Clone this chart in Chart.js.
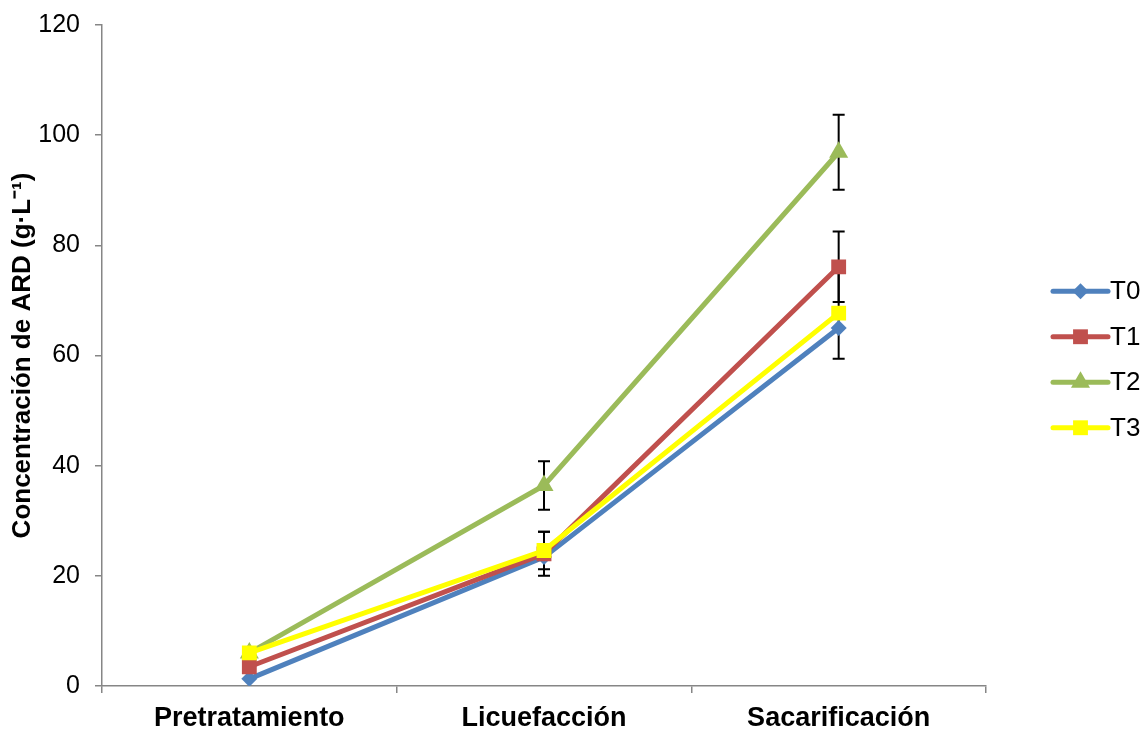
<!DOCTYPE html>
<html>
<head>
<meta charset="utf-8">
<script src="https://cdn.jsdelivr.net/npm/chart.js@4/dist/chart.umd.min.js"></script>
<style>
  html, body { margin: 0; padding: 0; background: #fff; }
  #wrap { width: 1144px; height: 729px; }
</style>
</head>
<body>
<div id="wrap"><canvas id="chart" width="1144" height="729"></canvas></div>
<script>
        // Data
        const categories = ['Pretratamiento', 'Licuefacción', 'Sacarificación'];
        const seriesNames = ['T0', 'T1', 'T2', 'T3'];
        const t0Values = [1.3, 23.4, 65.0];
        const t1Values = [3.5, 24.0, 76.1];
        const t2Values = [6.0, 36.4, 96.9];
        const t3Values = [6.0, 24.6, 67.7];
        const t0Errors = [0, 0, 0];
        const t1Errors = [0, 4.0, 6.4];
        const t2Errors = [0, 4.4, 6.8];
        const t3Errors = [0, 3.4, 8.3];
        const yTicks = [0, 20, 40, 60, 80, 100, 120];

        const FONT = "'Liberation Sans', Arial, sans-serif";

        const styles = [
            { color: '#4F81BD', point: 'rectRot', radius: 8 },
            { color: '#C0504D', point: 'rect', radius: 10.5 },
            { color: '#9BBB59', point: 'triangle', radius: 11 },
            { color: '#FFFF00', point: 'rect', radius: 10.5 }
        ];
        const values = [t0Values, t1Values, t2Values, t3Values];
        const errors = [t0Errors, t1Errors, t2Errors, t3Errors];

        const datasets = seriesNames.map((name, i) => ({
            label: name,
            data: values[i],
            errors: errors[i],
            borderColor: styles[i].color,
            backgroundColor: styles[i].color,
            pointBackgroundColor: styles[i].color,
            pointBorderColor: styles[i].color,
            pointBorderWidth: 0,
            pointStyle: styles[i].point,
            pointRadius: styles[i].radius,
            borderWidth: 5,
            tension: 0,
            order: seriesNames.length - 1 - i
        }));

        // Error bars, drawn behind the series
        const errorBarPlugin = {
            id: 'errorBars',
            beforeDatasetsDraw(chart) {
                const ctx = chart.ctx;
                const yScale = chart.scales.y;
                ctx.save();
                ctx.strokeStyle = '#000';
                ctx.lineWidth = 2;
                chart.data.datasets.forEach((ds, i) => {
                    const meta = chart.getDatasetMeta(i);
                    ds.errors.forEach((e, j) => {
                        if (!e) return;
                        const x = meta.data[j].x;
                        const top = yScale.getPixelForValue(ds.data[j] + e);
                        const bot = yScale.getPixelForValue(ds.data[j] - e);
                        ctx.beginPath();
                        ctx.moveTo(x, top); ctx.lineTo(x, bot);
                        ctx.moveTo(x - 6, top); ctx.lineTo(x + 6, top);
                        ctx.moveTo(x - 6, bot); ctx.lineTo(x + 6, bot);
                        ctx.stroke();
                    });
                });
                ctx.restore();
            }
        };

        // Legend on the right: line with marker, then name
        const sideLegendPlugin = {
            id: 'sideLegend',
            afterDraw(chart) {
                const ctx = chart.ctx;
                const area = chart.chartArea;
                const gap = 45.5;
                const y0 = (area.top + area.bottom) / 2 + 4 - gap * 1.5;
                const x1 = area.right + 67, x2 = area.right + 122;
                ctx.save();
                chart.data.datasets.forEach((ds, i) => {
                    const y = y0 + i * gap;
                    ctx.strokeStyle = ds.borderColor;
                    ctx.lineWidth = 5;
                    ctx.lineCap = 'round';
                    ctx.beginPath();
                    ctx.moveTo(x1, y); ctx.lineTo(x2, y);
                    ctx.stroke();
                    ctx.fillStyle = ds.pointBackgroundColor;
                    ctx.strokeStyle = ds.pointBorderColor;
                    Chart.helpers.drawPoint(ctx, {
                        pointStyle: ds.pointStyle,
                        radius: ds.pointRadius,
                        rotation: 0,
                        borderWidth: 0
                    }, (x1 + x2) / 2, y);
                    ctx.fillStyle = '#000';
                    ctx.font = '26px ' + FONT;
                    ctx.textBaseline = 'middle';
                    ctx.fillText(ds.label, x2 + 2, y + 1);
                });
                ctx.restore();
            }
        };

        new Chart(document.getElementById('chart').getContext('2d'), {
            type: 'line',
            data: { labels: categories, datasets: datasets },
            options: {
                responsive: false,
                animation: false,
                layout: { padding: { left: 0, top: 25, right: 158, bottom: 0 } },
                plugins: {
                    legend: { display: false },
                    tooltip: { enabled: false }
                },
                scales: {
                    x: {
                        offset: true,
                        afterFit: (scale) => { scale.height = 43; scale.paddingLeft = 0; scale.paddingRight = 0; },
                        border: { color: '#868686', width: 1.5 },
                        grid: { drawOnChartArea: false, drawTicks: true, tickLength: 7, color: '#868686', lineWidth: 1.5, offset: true },
                        ticks: { color: '#000', padding: 9, font: { family: FONT, size: 27, weight: 'bold' } }
                    },
                    y: {
                        min: 0,
                        max: 120,
                        afterFit: (scale) => { scale.width = 102; scale.paddingTop = 0; scale.paddingBottom = 0; },
                        afterBuildTicks: (scale) => { scale.ticks = yTicks.map(v => ({ value: v })); },
                        border: { color: '#868686', width: 1.5 },
                        grid: { drawOnChartArea: false, drawTicks: true, tickLength: 7, color: '#868686', lineWidth: 1.5 },
                        ticks: { color: '#000', padding: 15, font: { family: FONT, size: 25 } },
                        title: {
                            display: true,
                            text: 'Concentración de ARD (g·L⁻¹)',
                            color: '#000',
                            padding: { top: 7, bottom: 0 },
                            font: { family: FONT, size: 26, weight: 'bold' }
                        }
                    }
                }
            },
            plugins: [errorBarPlugin, sideLegendPlugin]
        });
</script>
</body>
</html>
